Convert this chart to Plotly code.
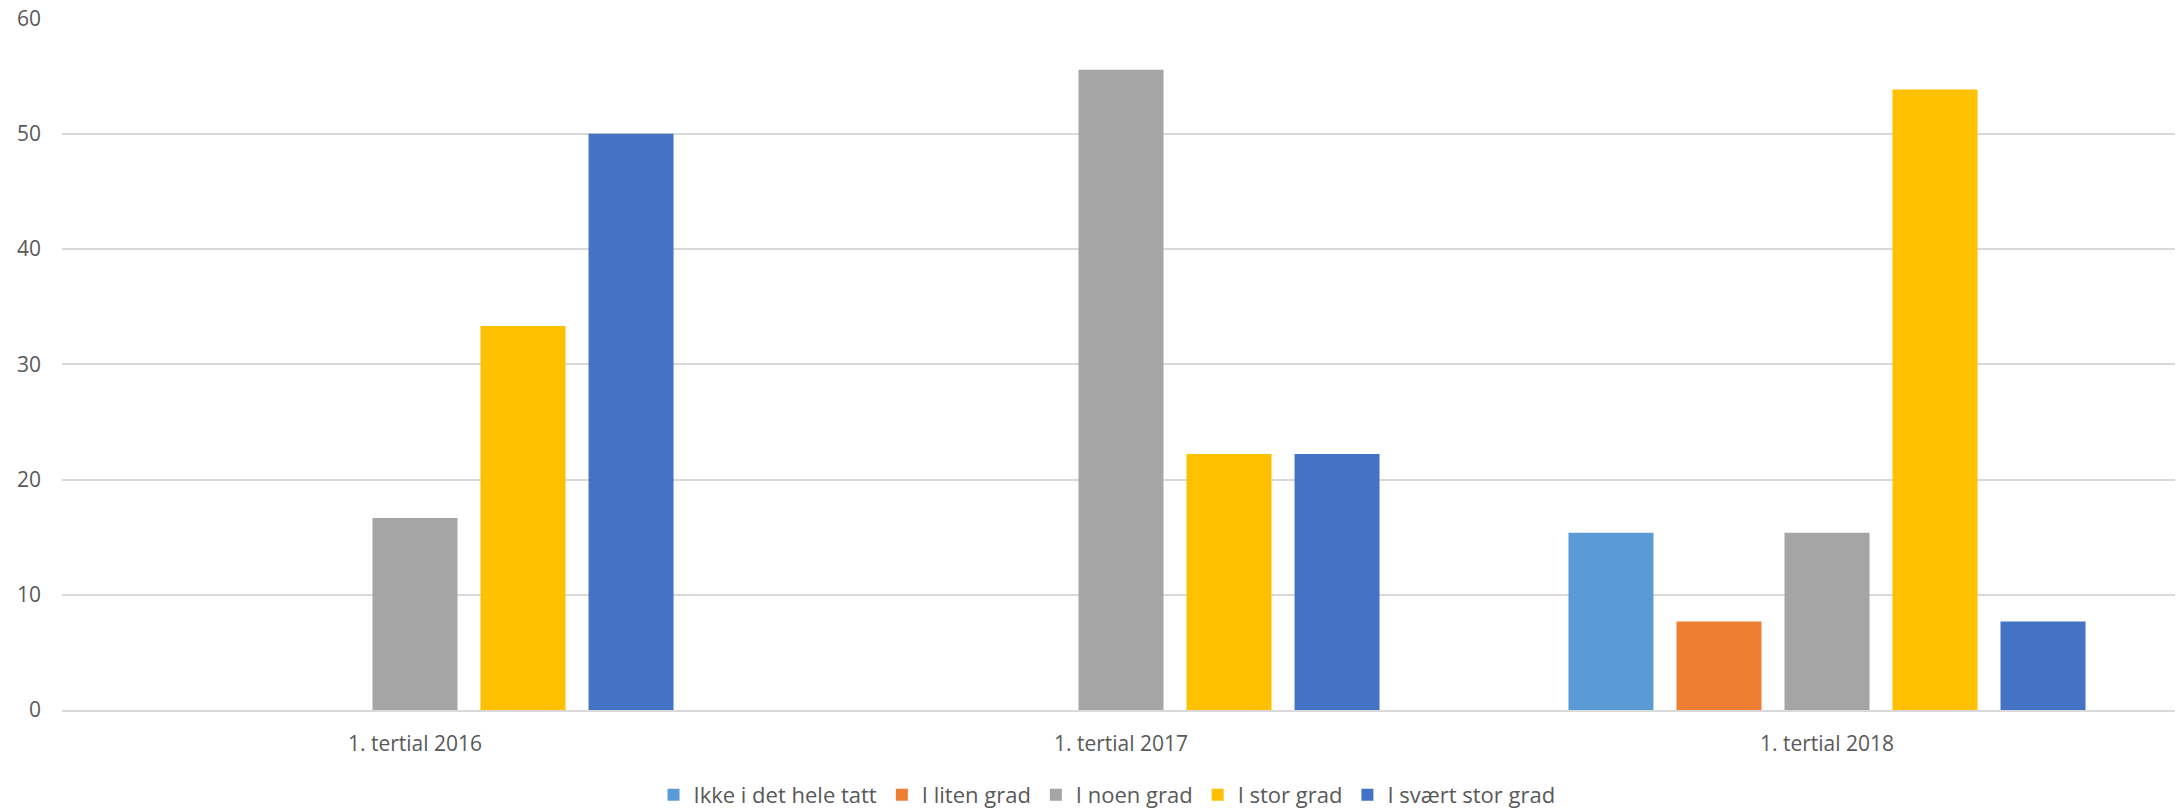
import plotly.graph_objects as go

categories = ["1. tertial 2016", "1. tertial 2017", "1. tertial 2018"]
series_names = ["Ikke i det hele tatt", "I liten grad", "I noen grad", "I stor grad", "I svært stor grad"]
ikke = [0, 0, 15.38]
liten = [0, 0, 7.69]
noen = [16.67, 55.56, 15.38]
stor = [33.33, 22.22, 53.85]
svaert = [50.0, 22.22, 7.69]
colors = ["#5B9BD5", "#ED7D31", "#A5A5A5", "#FFC000", "#4472C4"]
y_ticks = [0, 10, 20, 30, 40, 50, 60]

fig = go.Figure()
for name, vals, col in zip(series_names, [ikke, liten, noen, stor, svaert], colors):
    fig.add_trace(go.Bar(name=name, x=categories, y=vals, marker=dict(color=col, line=dict(width=0))))

fig.update_layout(
    width=2175, height=801,
    margin=dict(l=54, r=3, t=10, b=99, autoexpand=False),
    paper_bgcolor="white", plot_bgcolor="white",
    barmode="group", bargap=0.235, bargroupgap=0.213,
    font=dict(family="Open Sans", size=21, color="#595959"),
    xaxis=dict(showgrid=False, showline=True, linecolor="#D9D9D9", linewidth=1.5, automargin=False,
               ticks="", ticklabelstandoff=14, tickfont=dict(size=21, color="#595959")),
    yaxis=dict(range=[0, 60.05], tickvals=y_ticks, showgrid=True, gridcolor="#D9D9D9", gridwidth=1.5,
               zeroline=False, showline=False, ticks="", ticklabelstandoff=20, automargin=False,
               ticklabeloverflow="allow", tickfont=dict(size=21, color="#595959")),
    legend=dict(orientation="h", x=0.4934, xanchor="center", yref="container", y=0.0175, yanchor="middle",
                font=dict(family="Open Sans", size=22, color="#595959"),
                itemwidth=30, traceorder="normal"),
)
fig.write_html("out.html")
